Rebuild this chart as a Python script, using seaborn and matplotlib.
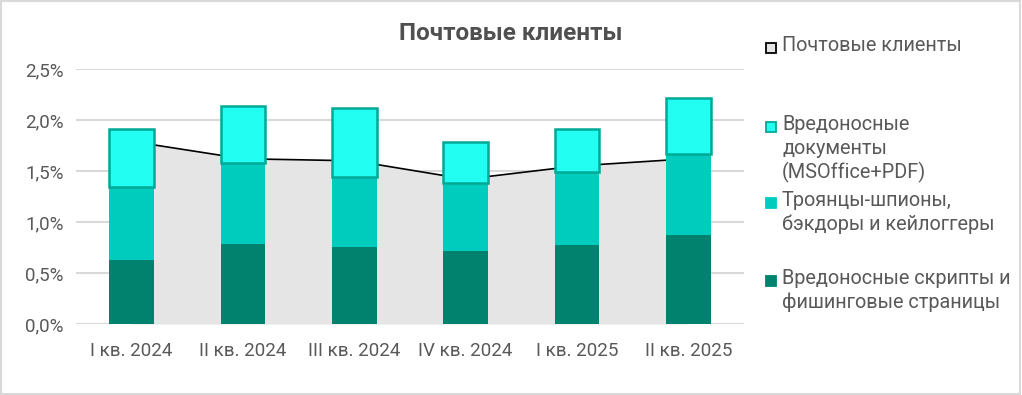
import numpy as np
import pandas as pd
import matplotlib
matplotlib.use("Agg")
import matplotlib.pyplot as plt
import matplotlib.patches as mpatches
from matplotlib.ticker import FuncFormatter
import seaborn as sns

# data (percent of users)
quarters = ["I кв. 2024", "II кв. 2024", "III кв. 2024", "IV кв. 2024", "I кв. 2025", "II кв. 2025"]
scripts = [0.63, 0.78, 0.755, 0.715, 0.775, 0.87]
trojans = [0.715, 0.80, 0.685, 0.67, 0.715, 0.795]
docs = [0.565, 0.555, 0.68, 0.395, 0.42, 0.555]
mail_clients = [1.79, 1.62, 1.60, 1.42, 1.55, 1.62]

title = "Почтовые клиенты"
legend_labels = ["Почтовые клиенты",
                 "Вредоносные\nдокументы\n(MSOffice+PDF)",
                 "Троянцы-шпионы,\nбэкдоры и кейлоггеры",
                 "Вредоносные скрипты и\nфишинговые страницы"]

df = pd.DataFrame({"quarter": quarters, "scripts": scripts, "trojans": trojans,
                   "docs": docs, "mail": mail_clients})
df["bottom2"] = df["scripts"]
df["bottom3"] = df["scripts"] + df["trojans"]

c_dark = "#00826E"
c_mid = "#00CCBE"
c_light = "#22FFF2"
c_edge = "#00A896"
c_area = "#E5E5E5"
c_text = "#595959"

sns.set_theme(style="white")
plt.rcParams["font.family"] = ["Roboto", "DejaVu Sans"]

fig = plt.figure(figsize=(10.22, 3.95), dpi=100)
ax = fig.add_axes([76 / 1022, 1 - 324 / 395, 668 / 1022, 255 / 395])

x = np.arange(len(quarters))
ax.fill_between(x, df["mail"], color=c_area, zorder=1, linewidth=0)
sns.lineplot(x=x, y=df["mail"], color="black", linewidth=1.2, ax=ax, zorder=2)

sns.barplot(data=df, x="quarter", y="scripts", color=c_dark, width=0.4,
            saturation=1, ax=ax, zorder=3, linewidth=0)
sns.barplot(data=df, x="quarter", y="trojans", bottom=df["bottom2"].tolist(),
            color=c_mid, width=0.4, saturation=1, ax=ax, zorder=3, linewidth=0)
sns.barplot(data=df, x="quarter", y="docs", bottom=df["bottom3"].tolist(),
            color=c_light, width=0.4, saturation=1, ax=ax, zorder=4,
            edgecolor=c_edge, linewidth=1.8)

ax.set_xlim(-0.5, 5.5)
ax.set_ylim(0, 2.5)
ax.set_yticks(np.arange(0, 2.51, 0.5))
ax.yaxis.set_major_formatter(FuncFormatter(lambda v, p: f"{v:.1f}%".replace(".", ",")))
ax.grid(axis="y", color="#D9D9D9", linewidth=1.5, zorder=0)
ax.set_axisbelow(True)
for s in ax.spines.values():
    s.set_visible(False)
ax.set_xlabel("")
ax.set_ylabel("")
ax.tick_params(axis="both", length=0, labelsize=13.5, colors=c_text)
ax.tick_params(axis="y", pad=9)
ax.tick_params(axis="x", pad=13)

fig.text(511 / 1022, 1 - 33 / 395, title, ha="center", va="center",
         fontsize=17.5, fontweight="bold", color="#505050")

# legend drawn by hand to keep the uneven spacing
leg_y = [48, 127, 203, 281]
leg_face = [c_area, c_light, c_mid, c_dark]
leg_edge = ["black", c_edge, c_mid, c_dark]
for yy, lab, fc, ec in zip(leg_y, legend_labels, leg_face, leg_edge):
    fig.patches.append(mpatches.Rectangle((766 / 1022, 1 - (yy + 5) / 395), 10 / 1022, 10 / 395,
                                          facecolor=fc, edgecolor=ec, linewidth=1.3,
                                          transform=fig.transFigure, figure=fig))
    fig.text(782 / 1022, 1 - (yy - 12) / 395, lab, ha="left", va="top",
             fontsize=14.3, color=c_text, linespacing=1.3)

fig.patches.append(mpatches.Rectangle((0.001, 0.002), 0.997, 0.995, fill=False,
                                      edgecolor="#D9D9D9", linewidth=1.5,
                                      transform=fig.transFigure, figure=fig))

fig.savefig("out.png", dpi=100)
